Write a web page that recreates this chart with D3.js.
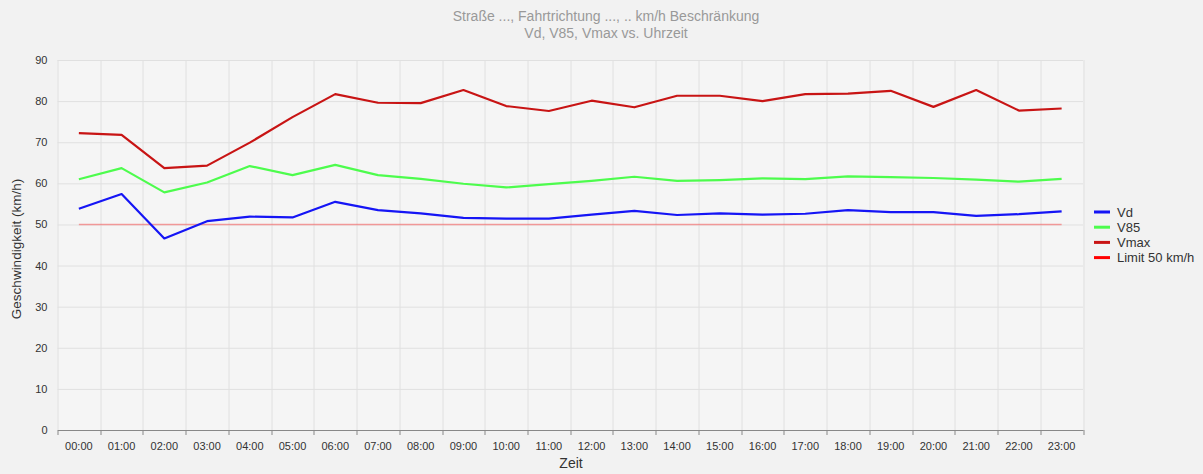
<!DOCTYPE html>
<html>
<head>
<meta charset="utf-8">
<script src="https://cdn.jsdelivr.net/npm/d3@7"></script>
<style>
  body { margin: 0; background: #f2f2f2; font-family: "Liberation Sans", Arial, sans-serif; }
  svg { display: block; }
</style>
</head>
<body>
<svg id="chart" width="1203" height="474"></svg>
<script>
// Hours of the day
const hours = ['00:00','01:00','02:00','03:00','04:00','05:00','06:00','07:00','08:00','09:00','10:00','11:00',
               '12:00','13:00','14:00','15:00','16:00','17:00','18:00','19:00','20:00','21:00','22:00','23:00'];

// Series values (km/h)
const vd   = [53.8, 57.4, 46.6, 50.8, 51.9, 51.7, 55.5, 53.5, 52.7, 51.6, 51.4, 51.4,
              52.4, 53.3, 52.3, 52.7, 52.4, 52.6, 53.5, 53.0, 53.0, 52.1, 52.5, 53.2];
const v85  = [61.0, 63.7, 57.8, 60.2, 64.2, 62.0, 64.5, 62.0, 61.1, 59.9, 59.0, 59.8,
              60.6, 61.6, 60.6, 60.8, 61.2, 61.0, 61.7, 61.5, 61.3, 60.9, 60.4, 61.1];
const vmax = [72.2, 71.8, 63.7, 64.3, 69.9, 76.1, 81.7, 79.6, 79.5, 82.7, 78.8, 77.6,
              80.1, 78.5, 81.3, 81.3, 80.0, 81.7, 81.8, 82.5, 78.6, 82.7, 77.7, 78.2];
const limit = hours.map(() => 50);

const yTicks = [0, 10, 20, 30, 40, 50, 60, 70, 80, 90];

const seriesNames  = ['Vd', 'V85', 'Vmax', 'Limit 50 km/h'];
const seriesColors = ['#1515f5', '#4dfc4d', '#c81414', '#ff0000'];

const series = [
  {name: seriesNames[0], values: vd,    color: seriesColors[0], width: 2.2, opacity: 1},
  {name: seriesNames[1], values: v85,   color: seriesColors[1], width: 2.2, opacity: 1},
  {name: seriesNames[2], values: vmax,  color: seriesColors[2], width: 2.2, opacity: 1},
  {name: seriesNames[3], values: limit, color: seriesColors[3], width: 1.5, opacity: 0.35}
];

const margin = {top: 60, right: 120, bottom: 44, left: 57.5};
const W = 1203, H = 474;
const width = W - margin.left - margin.right;
const height = H - margin.top - margin.bottom;

const svg = d3.select('#chart');

// Title
svg.append('text')
   .attr('x', 606).attr('y', 21)
   .attr('text-anchor', 'middle')
   .style('font-size', '14px').style('fill', '#999')
   .text('Straße ..., Fahrtrichtung ..., .. km/h Beschränkung');
svg.append('text')
   .attr('x', 606).attr('y', 38)
   .attr('text-anchor', 'middle')
   .style('font-size', '14px').style('fill', '#999')
   .text('Vd, V85, Vmax vs. Uhrzeit');

const g = svg.append('g').attr('transform', `translate(${margin.left},${margin.top})`);

const x = d3.scaleBand().domain(hours).range([0, width]);
const y = d3.scaleLinear().domain([0, 90]).range([height, 0]);

// Plot background
g.append('rect').attr('width', width).attr('height', height).attr('fill', '#f5f5f5');

// Horizontal grid
g.selectAll('.hgrid').data(yTicks).enter().append('line')
  .attr('x1', 0).attr('x2', width)
  .attr('y1', d => y(d) + 0.5).attr('y2', d => y(d) + 0.5)
  .attr('stroke', '#e0e0e0');

// Vertical grid at band boundaries
g.selectAll('.vgrid').data(hours.concat(['end'])).enter().append('line')
  .attr('x1', (d, i) => Math.round(i * x.step()) + 0.5)
  .attr('x2', (d, i) => Math.round(i * x.step()) + 0.5)
  .attr('y1', 0).attr('y2', height)
  .attr('stroke', '#e0e0e0');

// Y axis labels
const yAxis = g.append('g').call(d3.axisLeft(y).tickValues(yTicks).tickSize(0).tickPadding(10));
yAxis.select('.domain').remove();
yAxis.selectAll('text').style('font-size', '11px').style('fill', '#333').style('font-family', '"Liberation Sans", Arial, sans-serif');

// X axis
const xAxis = g.append('g')
  .attr('transform', `translate(0,${height})`)
  .call(d3.axisBottom(x).tickSize(0).tickPadding(12));
xAxis.select('.domain').attr('stroke', '#888');
xAxis.selectAll('text').style('font-size', '11px').style('fill', '#333').style('font-family', '"Liberation Sans", Arial, sans-serif');
// tick marks between bands
xAxis.selectAll('.sep').data(hours.concat(['end'])).enter().append('line')
  .attr('x1', (d, i) => Math.round(i * x.step()) + 0.5)
  .attr('x2', (d, i) => Math.round(i * x.step()) + 0.5)
  .attr('y1', 0).attr('y2', 5)
  .attr('stroke', '#888');

// Lines
const line = d3.line()
  .x((d, i) => x(hours[i]) + x.bandwidth() / 2)
  .y(d => y(d));

// draw limit first, then the rest on top
[series[3], series[0], series[1], series[2]].forEach(s => {
  g.append('path')
    .datum(s.values)
    .attr('d', line)
    .attr('fill', 'none')
    .attr('stroke', s.color)
    .attr('stroke-width', s.width)
    .attr('stroke-opacity', s.opacity)
    .attr('stroke-linejoin', 'round');
});

// Axis titles
svg.append('text')
   .attr('x', 571).attr('y', 468)
   .attr('text-anchor', 'middle')
   .style('font-size', '14px').style('fill', '#333')
   .text('Zeit');
svg.append('text')
   .attr('transform', `translate(21,249) rotate(-90)`)
   .attr('text-anchor', 'middle')
   .style('font-size', '13.5px').style('fill', '#333')
   .text('Geschwindigkeit (km/h)');

// Legend
const legend = svg.append('g').attr('transform', 'translate(1094,212)');
series.forEach((s, i) => {
  const row = legend.append('g').attr('transform', `translate(0,${i * 15.2})`);
  row.append('line').attr('x1', 0).attr('x2', 16).attr('y1', 0).attr('y2', 0)
     .attr('stroke', s.color).attr('stroke-width', 3);
  row.append('text').attr('x', 23).attr('y', 4.5)
     .style('font-size', '13px').style('fill', '#333')
     .text(s.name);
});
</script>
</body>
</html>
